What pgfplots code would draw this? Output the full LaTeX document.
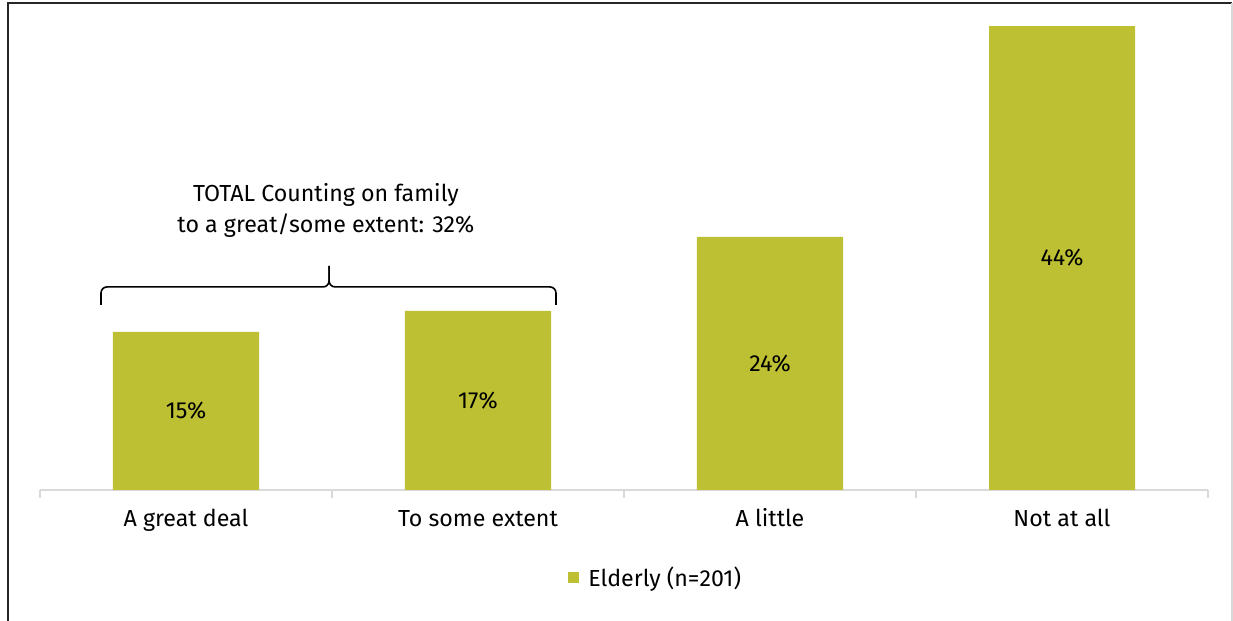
\documentclass[border=0pt]{standalone}
\usepackage{pgfplots}
\pgfplotsset{compat=1.18}
\usepackage{fontspec}
\setmainfont{Fira Sans}
\definecolor{barc}{RGB}{189,192,51}
\definecolor{axc}{RGB}{217,217,217}
\newcommand{\cf}{\fontsize{11.6}{14}\selectfont}
\begin{document}
\begin{tikzpicture}[x=1pt,y=1pt]
\path[use as bounding box] (0,0) rectangle (616.5,310.5);
\draw[line width=0.9pt, black!85] (4,0) -- (4,309) -- (616,309);
\draw[line width=0.6pt, axc] (616,309) -- (616,0);
\begin{axis}[at={(20pt,65.5pt)}, anchor=south west, scale only axis,
  width=584pt, height=242.5pt,
  xmin=-0.5, xmax=3.5, ymin=0, ymax=46,
  /pgf/number format/assume math mode=true,
  axis x line*=bottom, axis y line=none,
  x axis line style={axc, line width=0.8pt, -},
  xtick={0,1,2,3},
  xticklabels={A great deal, To some extent, A little, Not at all},
  major tick length=0pt,
  minor xtick={-0.5,0.5,1.5,2.5,3.5},
  minor tick length=4pt, tick align=outside,
  minor tick style={axc, line width=0.8pt},
  xticklabel style={font=\cf, anchor=base, yshift=-18.5pt},
  ybar, bar width=73pt,
  legend style={at={(0.528,-0.181)}, anchor=center, draw=none, fill=none,
    font=\cf, inner sep=0pt,
    /tikz/every odd column/.append style={column sep=2.5pt}},
  legend image code/.code={\fill[barc] (0pt,-2.75pt) rectangle (5.5pt,2.75pt);},
  clip=false,
]
\addplot[fill=barc, draw=none,
  nodes near coords={\pgfmathprintnumber{\pgfplotspointmeta}\%},
  visualization depends on={rawy \as \rawy},
  every node near coord/.append style={anchor=center, yshift=-\rawy*2.6359pt,
    font=\cf, text=black}]
  coordinates {(0,15) (1,17) (2,24) (3,44)};
\addlegendentry{Elderly (n=201)}
\draw[black, line width=0.8pt, rounded corners=3pt]
  (axis cs:-0.291,17.55) -- (axis cs:-0.291,19.26) -- (axis cs:0.49,19.26) -- (axis cs:0.49,21.25);
\draw[black, line width=0.8pt, rounded corners=3pt]
  (axis cs:1.267,17.55) -- (axis cs:1.267,19.26) -- (axis cs:0.49,19.26) -- (axis cs:0.49,21.25);
\node[align=center, font=\fontsize{11.6}{15.5}\selectfont] at (axis cs:0.479,26.56)
  {TOTAL Counting on family\\to a great/some extent: 32\%};
\end{axis}
\end{tikzpicture}
\end{document}
